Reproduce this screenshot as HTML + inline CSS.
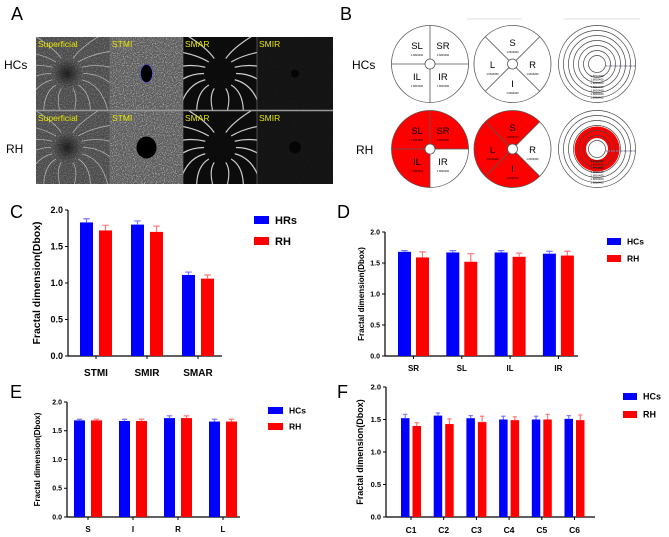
<!DOCTYPE html>
<html><head><meta charset="utf-8"><style>
html,body{margin:0;padding:0;background:#fff;}
svg{display:block;font-family:"Liberation Sans",Arial,sans-serif;}
</style></head><body>
<svg id="fig" width="669" height="537" viewBox="0 0 669 537" xmlns="http://www.w3.org/2000/svg">
<defs>
<filter id="noiseLight" x="0" y="0" width="100%" height="100%">
<feTurbulence type="fractalNoise" baseFrequency="0.9" numOctaves="1" seed="3"/>
<feColorMatrix type="matrix" values="0 0 0 0 1  0 0 0 0 1  0 0 0 0 1  0 0 0 2.2 -1.0"/>
</filter>
<filter id="noiseDim" x="0" y="0" width="100%" height="100%">
<feTurbulence type="fractalNoise" baseFrequency="0.9" numOctaves="1" seed="7"/>
<feColorMatrix type="matrix" values="0 0 0 0 1  0 0 0 0 1  0 0 0 0 1  0 0 0 1.2 -0.75"/>
</filter>
<radialGradient id="fov"><stop offset="0" stop-color="#111" stop-opacity="0.8"/><stop offset="1" stop-color="#111" stop-opacity="0"/></radialGradient>
</defs>

<text x="11" y="20" font-size="18">A</text>
<text x="340" y="20" font-size="18">B</text>
<text x="10" y="218" font-size="18">C</text>
<text x="337" y="218" font-size="18">D</text>
<text x="10" y="398" font-size="18">E</text>
<text x="337" y="398" font-size="18">F</text>

<text x="4" y="69" font-size="12">HCs</text>
<text x="6" y="153" font-size="12">RH</text>
<g id="panelA"></g>

<text x="352" y="69" font-size="12">HCs</text>
<text x="356" y="154" font-size="12">RH</text>
<line x1="467" y1="19" x2="522" y2="19" stroke="#ddd" stroke-width="1"/>
<line x1="564" y1="19" x2="640" y2="19" stroke="#ddd" stroke-width="1"/>
<g id="panelB"></g>

<g id="charts"></g>
</svg>
<script>
const cCategories = ["STMI","SMIR","SMAR"];
const cGroup1 = [1.83,1.80,1.11];
const cGroup1Err = [0.05,0.05,0.04];
const cGroup2 = [1.72,1.70,1.06];
const cGroup2Err = [0.07,0.08,0.05];
const cLegend = ["HRs","RH"];

const dCategories = ["SR","SL","IL","IR"];
const dGroup1 = [1.68,1.67,1.67,1.65];
const dGroup1Err = [0.02,0.03,0.03,0.04];
const dGroup2 = [1.59,1.52,1.60,1.62];
const dGroup2Err = [0.09,0.13,0.06,0.07];
const dLegend = ["HCs","RH"];

const eCategories = ["S","I","R","L"];
const eGroup1 = [1.68,1.67,1.72,1.66];
const eGroup1Err = [0.02,0.03,0.04,0.04];
const eGroup2 = [1.68,1.67,1.72,1.66];
const eGroup2Err = [0.02,0.03,0.04,0.04];
const eLegend = ["HCs","RH"];

const fCategories = ["C1","C2","C3","C4","C5","C6"];
const fGroup1 = [1.52,1.56,1.52,1.50,1.50,1.51];
const fGroup1Err = [0.06,0.04,0.04,0.05,0.05,0.05];
const fGroup2 = [1.40,1.43,1.46,1.49,1.50,1.49];
const fGroup2Err = [0.05,0.08,0.09,0.05,0.08,0.08];
const fLegend = ["HCs","RH"];

const yTicks = [0,0.5,1.0,1.5,2.0];
const yTickLabels = ["0.0","0.5","1.0","1.5","2.0"];

const NS = "http://www.w3.org/2000/svg";
function mk(tag, attrs, parent){
  const e = document.createElementNS(NS, tag);
  for (const k in attrs) e.setAttribute(k, attrs[k]);
  parent.appendChild(e);
  return e;
}
const charts = document.getElementById('charts');

function drawChart(id, L, cats, g1, e1, g2, e2, legend){
  const g = mk('g', {}, charts);
  
  
  const yScale = v => L.y0 - (v / 2.0) * (L.y0 - L.y2);
  const xGroup = i => L.gx + i * L.gs;
  const ya = mk('line', {x1:L.ax, y1:L.y2, x2:L.ax, y2:L.y0, stroke:'#000', 'stroke-width':1.2}, g);
  
  
  yTicks.forEach((t, i) => {
    const y = yScale(t);
    const tk = mk('line', {x1:L.ax-3, y1:y, x2:L.ax, y2:y, stroke:'#000', 'stroke-width':1}, g);
    
    
    const tl = mk('text', {x:L.ax-5, y:y+L.tf*0.35, 'font-size':L.tf, 'font-weight':'bold', 'text-anchor':'end'}, g);
    tl.textContent = yTickLabels[i];
    
    
  });
  const xa = mk('line', {x1:L.ax, y1:L.y0, x2:L.xend, y2:L.y0, stroke:'#000', 'stroke-width':1.2}, g);
  
  
  const yt = mk('text', {x:0, y:0, 'font-size':L.yf, 'font-weight':'bold', 'text-anchor':'middle',
    transform:'translate(' + L.ytx + ',' + ((L.y0 + L.y2) / 2) + ') rotate(-90)'}, g);
  yt.textContent = 'Fractal dimension(Dbox)';
  
  
  const series = [[g1, e1, '#0000ff', '#7777ff'], [g2, e2, '#ff0000', '#ff7777']];
  cats.forEach((c, i) => {
    const x0 = xGroup(i);
    series.forEach((s, k) => {
      const bx = x0 + k * L.off;
      const v = s[0][i], err = s[1][i];
      const b = mk('rect', {x:bx, y:yScale(v), width:L.bw, height:L.y0 - yScale(v), fill:s[2]}, g);
      
      
      const cx = bx + L.bw / 2;
      const eb = mk('path', {d:'M' + cx + ' ' + yScale(v) + 'V' + yScale(v + err) + 'M' + (cx - L.bw * 0.25) + ' ' + yScale(v + err) + 'H' + (cx + L.bw * 0.25), stroke:s[3], 'stroke-width':1.2, fill:'none'}, g);
      
      
    });
    const mid = x0 + (L.off + L.bw) / 2;
    const xt = mk('line', {x1:mid, y1:L.y0, x2:mid, y2:L.y0 + 3, stroke:'#000', 'stroke-width':1}, g);
    
    
    const xl = mk('text', {x:mid, y:L.xly, 'font-size':L.xf, 'font-weight':'bold', 'text-anchor':'middle'}, g);
    xl.textContent = c;
    
    
  });
  legend.forEach((name, k) => {
    const ly = L.ly[k];
    const r = mk('rect', {x:L.lx, y:ly, width:L.lw, height:L.lh, fill:series[k][2]}, g);
    
    
    const t = mk('text', {x:L.lx + L.lw + 6, y:ly + L.lh / 2 + L.lf * 0.36, 'font-size':L.lf, 'font-weight':'bold'}, g);
    t.textContent = name;
    
    
  });
}

drawChart('c', {ax:68, y2:210, y0:356, xend:222, gx:80, gs:51, bw:13, off:19, tf:9, yf:10.5, ytx:40, xf:10, xly:376,
  lx:254, ly:[216,237], lw:15, lh:8, lf:11}, cCategories, cGroup1, cGroup1Err, cGroup2, cGroup2Err, cLegend);
drawChart('d', {ax:385, y2:232, y0:356, xend:578, gx:398, gs:48.3, bw:13, off:18, tf:7, yf:8, ytx:364, xf:8, xly:371,
  lx:607, ly:[238,255], lw:14, lh:7, lf:8.5}, dCategories, dGroup1, dGroup1Err, dGroup2, dGroup2Err, dLegend);
drawChart('e', {ax:67, y2:402, y0:517, xend:240, gx:74, gs:45, bw:11, off:17, tf:7, yf:8, ytx:40, xf:8, xly:532,
  lx:268, ly:[407,423], lw:15, lh:7, lf:8.5}, eCategories, eGroup1, eGroup1Err, eGroup2, eGroup2Err, eLegend);
drawChart('f', {ax:386, y2:387, y0:517, xend:595, gx:401, gs:32.7, bw:8.5, off:11.5, tf:7.5, yf:9, ytx:363, xf:8.5, xly:533,
  lx:623, ly:[393,411], lw:14, lh:7, lf:9}, fCategories, fGroup1, fGroup1Err, fGroup2, fGroup2Err, fLegend);

// ---------- Panel A ----------
const pA = document.getElementById('panelA');
const tileNames = ["Superficial","STMI","SMAR","SMIR"];
const tileBg = ["#4a4a4a","#5a5a5a","#0c0c0c","#141414"];
const tileX = [36,110,183,257];
const tileW = [74,73,74,76];
const rowsY = [37,111];
const rowH = 73;
rowsY.forEach((ry, r) => {
  tileNames.forEach((nm, i) => {
    const tg = mk('g', {}, pA);
    
    
    const x = tileX[i], w = tileW[i];
    mk('rect', {x:x, y:ry, width:w, height:rowH, fill:tileBg[i]}, tg);
    if (i === 0 || i === 1) mk('rect', {x:x, y:ry, width:w, height:rowH, filter:'url(#noiseLight)', opacity: i ? 0.75 : 0.4}, tg);
    if (i === 3) mk('rect', {x:x, y:ry, width:w, height:rowH, filter:'url(#noiseDim)', opacity:0.3}, tg);
    const cx = x + w * (i === 0 ? 0.42 : 0.5), cy = ry + rowH * 0.5;
    if (i === 0) mk('circle', {cx:cx, cy:cy, r:14, fill:'url(#fov)'}, tg);
    if (i === 1) mk('ellipse', {cx:cx, cy:cy, rx: r ? 10 : 6, ry: r ? 11 : 9, fill:'#000', stroke: r ? 'none' : '#55f', 'stroke-width':0.6}, tg);
    if (i === 3) mk('circle', {cx:cx, cy:cy, r: r ? 6 : 4, fill:'#050505'}, tg);
    if (i === 0 || i === 2) {
      let d = '';
      for (let k = 0; k < 7; k++) {
        const a = -1.2 + k * 0.4;
        const sx = cx + Math.cos(a) * 16, sy = cy + Math.sin(a) * 16;
        const ex = cx + Math.cos(a + 0.4) * 60, ey = cy + Math.sin(a + 0.4) * 60;
        d += 'M' + sx + ' ' + sy + 'Q' + (cx + Math.cos(a) * 40) + ' ' + (cy + Math.sin(a) * 30) + ' ' + ex + ' ' + ey;
        const a2 = a + Math.PI;
        d += 'M' + (cx + Math.cos(a2) * 16) + ' ' + (cy + Math.sin(a2) * 16) + 'Q' + (cx + Math.cos(a2) * 40) + ' ' + (cy + Math.sin(a2) * 30) + ' ' + (cx + Math.cos(a2 - 0.4) * 60) + ' ' + (cy + Math.sin(a2 - 0.4) * 60);
      }
      const cp = mk('clipPath', {id:'clip' + r + i}, tg);
      mk('rect', {x:x, y:ry, width:w, height:rowH}, cp);
      mk('path', {d:d, stroke:'#eee', 'stroke-width': i === 2 ? 1.2 : 0.8, fill:'none', 'clip-path':'url(#clip' + r + i + ')', opacity: i === 2 ? 0.85 : 0.6}, tg);
    }
    const lb = mk('text', {x:x + 2, y:ry + 10, 'font-size':8.5, fill:'#e8e800'}, tg);
    lb.textContent = nm;
  });
});
mk('line', {x1:36, y1:110.5, x2:333, y2:110.5, stroke:'#999', 'stroke-width':1.5}, pA);
[110,183,257].forEach(x => mk('line', {x1:x, y1:37, x2:x, y2:184, stroke:'#777', 'stroke-width':0.6}, pA));

// ---------- Panel B ----------
const pB = document.getElementById('panelB');
const R = 38.5;
function pt(cx, cy, r, ang){ return [cx + r * Math.cos(ang), cy + r * Math.sin(ang)]; }
function sector(g, cx, cy, a0, a1, fill){
  const p0 = pt(cx, cy, R, a0), p1 = pt(cx, cy, R, a1);
  mk('path', {d:'M' + cx + ' ' + cy + 'L' + p0[0] + ' ' + p0[1] + 'A' + R + ' ' + R + ' 0 0 1 ' + p1[0] + ' ' + p1[1] + 'Z', fill:fill, stroke:'none'}, g);
}
function quadDiagram(cx, cy, fills, labels, rot, name){
  const g = mk('g', {}, pB);
  
  
  for (let q = 0; q < 4; q++) sector(g, cx, cy, rot + q * Math.PI / 2, rot + (q + 1) * Math.PI / 2, fills[q]);
  mk('circle', {cx:cx, cy:cy, r:R, fill:'none', stroke:'#555', 'stroke-width':0.8}, g);
  for (let q = 0; q < 4; q++) {
    const a = pt(cx, cy, R, rot + q * Math.PI / 2), b = pt(cx, cy, 5, rot + q * Math.PI / 2);
    mk('line', {x1:b[0], y1:b[1], x2:a[0], y2:a[1], stroke:'#555', 'stroke-width':0.8}, g);
  }
  mk('circle', {cx:cx, cy:cy, r:5, fill:'#fff', stroke:'#555', 'stroke-width':0.8}, g);
  labels.forEach(l => {
    const t = mk('text', {x:cx + l[1], y:cy + l[2], 'font-size':9.5, 'text-anchor':'middle'}, g);
    t.textContent = l[0];
    const s = mk('text', {x:cx + l[1], y:cy + l[2] + 7, 'font-size':2.6, 'text-anchor':'middle'}, g);
    s.textContent = '1.6816400';
  });
}
const lblSq = [["SL",-13,-15],["SR",13,-15],["IL",-13,16],["IR",13,16]];
const lblX = [["S",0,-18],["R",20,4],["I",0,23],["L",-20,4]];
const W = '#fff', Rd = '#ff0000';
quadDiagram(430, 64, [W,W,W,W], lblSq, 0, 'quadrant-diagram-hcs');
quadDiagram(430, 149, [W,Rd,Rd,Rd], lblSq, 0, 'quadrant-diagram-rh');
quadDiagram(512.5, 64, [W,W,W,W], lblX, Math.PI/4, 'sector-diagram-hcs');
quadDiagram(512.5, 149, [Rd,Rd,Rd,W], lblX, Math.PI/4, 'sector-diagram-rh');
function rings(cx, cy, red, name){
  const g = mk('g', {}, pB);
  
  
  const radii = [38.5,33.5,28.5,23.5,18.5,13.5,8.5];
  if (red) { mk('circle', {cx:cx, cy:cy, r:22.5, fill:Rd}, g); mk('circle', {cx:cx, cy:cy, r:11, fill:'#fff'}, g); }
  radii.forEach(r => mk('circle', {cx:cx, cy:cy, r:r, fill:'none', stroke:'#444', 'stroke-width':0.7}, g));
  mk('line', {x1:cx + 9, y1:cy + 2, x2:cx + 39, y2:cy + 2, stroke:'#88a', 'stroke-width':1.2, 'stroke-dasharray':'1.5 1'}, g);
  for (let k = 0; k < 7; k++) {
    const t = mk('text', {x:cx, y:cy + 13 + k * 3.6, 'font-size':2.8, 'text-anchor':'middle'}, g);
    t.textContent = '1.6816400';
  }
}
rings(597, 64, false, 'ring-diagram-hcs');
rings(597, 149, true, 'ring-diagram-rh');
</script>
</body></html>
